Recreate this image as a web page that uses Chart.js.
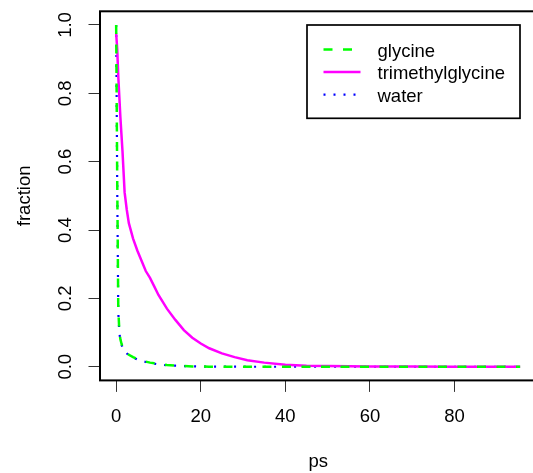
<!DOCTYPE html>
<html>
<head>
<meta charset="utf-8">
<title>fraction vs ps</title>
<script src="https://cdn.jsdelivr.net/npm/chart.js@4.4.1/dist/chart.umd.min.js"></script>
<style>
    html, body { margin: 0; padding: 0; background: #fff; overflow: hidden; }
    canvas { display: block; }
</style>
</head>
<body>
<canvas id="fracChart" width="540" height="473"></canvas>
<script>
// time points (ps) shared by all three curves
const ps = [0, 0.25, 0.5, 0.75, 1, 1.25, 1.5, 1.75, 2, 2.5, 3, 4, 5, 6, 7, 8, 9, 10,
    12, 14, 16, 18, 20, 22, 25, 28, 31, 35, 40, 45, 50, 60, 70, 80, 90, 95.5];

const glycine = [1.0, 0.55, 0.17, 0.105, 0.08, 0.068, 0.058, 0.052, 0.046, 0.04, 0.035,
    0.028, 0.022, 0.018, 0.015, 0.012, 0.01, 0.008,
    0.005, 0.003, 0.002, 0.001, 0.0005, 0.0003, 0.0002, 0.0001, 0, 0, 0, 0, 0, 0, 0, 0, 0, 0];

const trimethylglycine = [0.975, 0.93, 0.85, 0.79, 0.73, 0.68, 0.63, 0.57, 0.51, 0.46, 0.42,
    0.375, 0.34, 0.31, 0.28, 0.26, 0.235, 0.21,
    0.17, 0.137, 0.107, 0.085, 0.068, 0.054, 0.039, 0.028, 0.019, 0.012, 0.006, 0.003, 0.002,
    0.001, 0.0005, 0, 0, 0];

const water = [1.0, 0.53, 0.16, 0.1, 0.077, 0.066, 0.056, 0.05, 0.045, 0.039, 0.034,
    0.027, 0.021, 0.017, 0.014, 0.011, 0.009, 0.007,
    0.004, 0.003, 0.002, 0.001, 0.0005, 0.0003, 0.0002, 0.0001, 0, 0, 0, 0, 0, 0, 0, 0, 0, 0];

const seriesNames = ['glycine', 'trimethylglycine', 'water'];
const xTicks = [0, 20, 40, 60, 80];
const yTicks = [0, 0.2, 0.4, 0.6, 0.8, 1.0];

document.addEventListener('DOMContentLoaded', function() {
    const FONT = '"Liberation Sans", Arial, Helvetica, sans-serif';
    const ctx = document.getElementById('fracChart').getContext('2d');

    function toPoints(values) {
        return ps.map((t, i) => ({ x: t, y: values[i] }));
    }

    // R-style 4% padding around the data range
    const xPad = 0.04 * (ps[ps.length - 1] - ps[0]);

    // fixed axis sizes, no extra room for label overhang
    function fixSize(scale, w, h) {
        if (w !== null) scale.width = w;
        if (h !== null) scale.height = h;
        scale.paddingTop = 0;
        scale.paddingBottom = 0;
        scale.paddingLeft = 0;
        scale.paddingRight = 0;
    }

    // plot frame
    const frameBox = {
        id: 'frameBox',
        afterDatasetsDraw(chart) {
            const a = chart.chartArea;
            const c = chart.ctx;
            c.save();
            c.strokeStyle = '#000';
            c.lineWidth = 2;
            c.strokeRect(a.left, a.top, a.right - a.left, a.bottom - a.top);
            c.restore();
        }
    };

    // boxed legend in the top right corner
    const legendBox = {
        id: 'legendBox',
        afterDraw(chart) {
            const a = chart.chartArea;
            const c = chart.ctx;
            const left = a.left + 207, top = a.top + 13.7;
            const w = 213, h = 93.3;
            c.save();
            c.fillStyle = '#fff';
            c.fillRect(left, top, w, h);
            c.strokeStyle = '#000';
            c.lineWidth = 1.7;
            c.strokeRect(left, top, w, h);
            c.font = '18.5px ' + FONT;
            c.textBaseline = 'alphabetic';
            c.textAlign = 'left';
            chart.data.datasets.forEach((ds, i) => {
                const base = top + 31.5 + i * 22.6;
                const ly = base - 7;
                c.strokeStyle = ds.borderColor;
                c.lineWidth = ds.borderWidth;
                c.lineCap = 'butt';
                c.setLineDash(ds.borderDash || []);
                c.beginPath();
                c.moveTo(left + 16.5, ly);
                c.lineTo(left + 53.5, ly);
                c.stroke();
                c.setLineDash([]);
                c.fillStyle = '#000';
                c.fillText(ds.label, left + 70.5, base);
            });
            c.restore();
        }
    };

    new Chart(ctx, {
        type: 'line',
        data: {
            datasets: [
                {
                    label: seriesNames[0],
                    data: toPoints(glycine),
                    borderColor: '#00ff00',
                    borderWidth: 2.5,
                    borderDash: [9, 10.5],
                    borderCapStyle: 'butt'
                },
                {
                    label: seriesNames[1],
                    data: toPoints(trimethylglycine),
                    borderColor: '#ff00ff',
                    borderWidth: 2.5
                },
                {
                    label: seriesNames[2],
                    data: toPoints(water),
                    borderColor: '#0000ff',
                    borderWidth: 2.2,
                    borderDash: [2, 8],
                    borderCapStyle: 'butt'
                }
            ]
        },
        options: {
            responsive: false,
            animation: false,
            events: [],
            layout: { padding: { left: 0, top: 11.3, right: 3.7, bottom: 0 } },
            elements: {
                point: { radius: 0 },
                line: { tension: 0, fill: false }
            },
            plugins: {
                legend: { display: false },
                tooltip: { enabled: false }
            },
            scales: {
                x: {
                    type: 'linear',
                    min: ps[0] - xPad,
                    max: ps[ps.length - 1] + xPad,
                    afterFit: scale => fixSize(scale, null, 92.6),
                    afterBuildTicks: scale => { scale.ticks = xTicks.map(v => ({ value: v })); },
                    border: { display: false },
                    grid: {
                        drawOnChartArea: false,
                        drawTicks: true,
                        tickLength: 11.5,
                        tickColor: '#333',
                        tickWidth: 1
                    },
                    ticks: {
                        color: '#000',
                        font: { family: FONT, size: 18.5 },
                        padding: 13.5,
                        maxRotation: 0,
                        minRotation: 0
                    },
                    title: {
                        display: true,
                        text: 'ps',
                        color: '#000',
                        font: { family: FONT, size: 18.5, lineHeight: 1.2 },
                        padding: { top: 0, bottom: 0 }
                    }
                },
                y: {
                    type: 'linear',
                    min: -0.04,
                    max: 1.04,
                    afterFit: scale => fixSize(scale, 100, null),
                    afterBuildTicks: scale => { scale.ticks = yTicks.map(v => ({ value: v })); },
                    border: { display: false },
                    grid: {
                        drawOnChartArea: false,
                        drawTicks: true,
                        tickLength: 11.5,
                        tickColor: '#333',
                        tickWidth: 1
                    },
                    ticks: {
                        color: '#000',
                        font: { family: FONT, size: 18.5 },
                        padding: 9.4,
                        minRotation: 90,
                        maxRotation: 90,
                        crossAlign: 'center',
                        callback: v => Number(v).toFixed(1)
                    },
                    title: {
                        display: true,
                        text: 'fraction',
                        color: '#000',
                        font: { family: FONT, size: 18.5, lineHeight: 1.2 },
                        padding: { top: 14.1, bottom: 0 }
                    }
                }
            }
        },
        plugins: [frameBox, legendBox]
    });
});
</script>
</body>
</html>
